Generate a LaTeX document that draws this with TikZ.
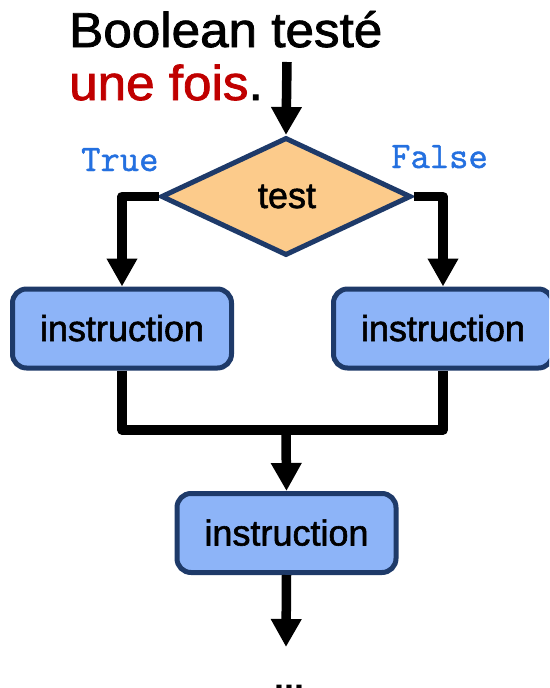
\documentclass[tikz,border=0pt]{standalone}
\usepackage{fontspec}
\setmainfont{Liberation Sans}
\newfontfamily\medfont{Liberation Sans}[FakeBold=1.6]
\newfontfamily\codefont{Latin Modern Mono}[FakeBold=1.2]
\usetikzlibrary{arrows.meta,shapes.geometric}
\definecolor{navy}{HTML}{1E3A69}
\definecolor{boxfill}{HTML}{8DB4F8}
\definecolor{diafill}{HTML}{FCCB8B}
\definecolor{codeblue}{HTML}{2470E0}
\definecolor{titlered}{HTML}{C00000}
\tikzset{
  instbox/.style={draw=navy, fill=boxfill, line width=5pt, rounded corners=14pt,
    minimum width=219pt, minimum height=79pt, inner sep=0pt},
  boxtxt/.style={inner sep=0pt, anchor=base, font=\medfont\fontsize{36}{36}\selectfont},
  testdia/.style={diamond, draw=navy, fill=diafill, line width=5pt, inner sep=0pt,
    minimum width=250pt, minimum height=118pt},
  conn/.style={line width=9.5pt, line join=round},
  arr/.style={conn, -{Triangle[width=29pt,length=28pt]}},
  codelbl/.style={text=codeblue, inner sep=0pt, anchor=base west,
    font=\codefont\fontsize{37.5}{37.5}\selectfont},
  titletxt/.style={inner sep=0pt, anchor=base west, font=\medfont\fontsize{49}{49}\selectfont}
}
\begin{document}
\begin{tikzpicture}[x=1pt,y=-1pt]
\clip (0,0) rectangle (549,688);
\fill[white] (0,0) rectangle (549,688);
% title
\node[titletxt] (t1) at (69,47) {\scalebox{1.045}[1]{Boolean testé}};
\node[titletxt] (t2) at (69,100) {\scalebox{1.045}[1]{\textcolor{titlered}{une fois}.}};
% diamond
\node[testdia] (d) at (286,196.5) {};
\node[boxtxt] (dt) at (287,208) {test};
% labels
\node[codelbl] (tl) at (81,171) {True};
\node[codelbl] (fl) at (391,168) {False};
% boxes
\node[instbox] (lb) at (122,328.5) {};
\node[boxtxt] (lbt) at (122,341) {instruction};
\node[instbox] (rb) at (443,328.5) {};
\node[boxtxt] (rbt) at (443,341) {instruction};
\node[instbox] (bb) at (286.5,533) {};
\node[boxtxt] (bbt) at (286.5,545.5) {instruction};
% connectors
\coordinate (top) at (287,62);
\draw[arr] (top) -- (d.north);
\draw[arr] (d.west) -| (lb.north);
\draw[arr] (d.east) -| (rb.north);
\coordinate (j) at (286,430);
\draw[conn] (lb.south) |- (j) -| (rb.south);
\draw[arr] (j) -- (bb.north);
\coordinate (endp) at (286,647);
\draw[arr] (bb.south) -- (endp);
\node[inner sep=0pt, anchor=base, font=\bfseries\fontsize{36}{36}\selectfont] (dots) at (289,690) {...};
\end{tikzpicture}
\end{document}
